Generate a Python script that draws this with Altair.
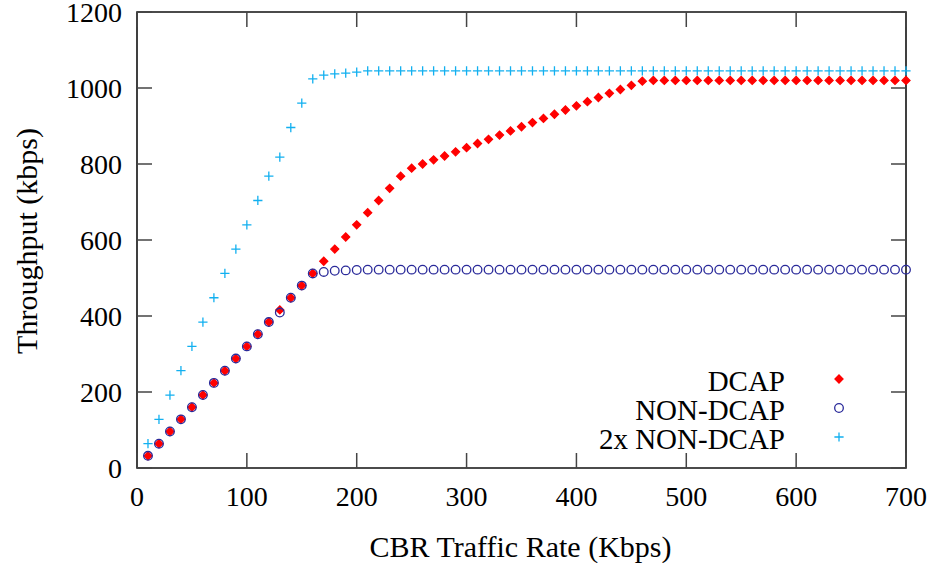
import altair as alt
import pandas as pd

# CBR traffic rate (Kbps) at which each throughput sample was taken
rate = [10, 20, 30, 40, 50, 60, 70, 80, 90, 100,
        110, 120, 130, 140, 150, 160, 170, 180, 190, 200,
        210, 220, 230, 240, 250, 260, 270, 280, 290, 300,
        310, 320, 330, 340, 350, 360, 370, 380, 390, 400,
        410, 420, 430, 440, 450, 460, 470, 480, 490, 500,
        510, 520, 530, 540, 550, 560, 570, 580, 590, 600,
        610, 620, 630, 640, 650, 660, 670, 680, 690, 700]

# Measured throughput (kbps)
dcap = [32, 64, 96, 128, 160, 192, 224, 256, 288, 320,
        352, 384, 416, 448, 480, 512, 544, 576, 608, 640,
        672, 704, 736, 768, 789, 800, 811, 821, 832, 843,
        854, 865, 876, 887, 898, 909, 920, 931, 942, 953,
        964, 975, 986, 996, 1007, 1018, 1020, 1020, 1020, 1020,
        1020, 1020, 1020, 1020, 1020, 1020, 1020, 1020, 1020, 1020,
        1020, 1020, 1020, 1020, 1020, 1020, 1020, 1020, 1020, 1020]

non_dcap = [32, 64, 96, 128, 160, 192, 224, 256, 288, 320,
            352, 384, 409, 448, 480, 512, 516, 519, 520, 521,
            522, 522, 522, 522, 522, 522, 522, 522, 522, 522,
            522, 522, 522, 522, 522, 522, 522, 522, 522, 522,
            522, 522, 522, 522, 522, 522, 522, 522, 522, 522,
            522, 522, 522, 522, 522, 522, 522, 522, 522, 522,
            522, 522, 522, 522, 522, 522, 522, 522, 522, 522]

twice_non_dcap = [64, 128, 192, 256, 320, 384, 448, 512, 576, 640,
                  704, 768, 818, 896, 960, 1024, 1034, 1037, 1039, 1042,
                  1045, 1045, 1045, 1045, 1045, 1045, 1045, 1045, 1045, 1045,
                  1045, 1045, 1045, 1045, 1045, 1045, 1045, 1045, 1045, 1045,
                  1045, 1045, 1045, 1045, 1045, 1045, 1045, 1045, 1045, 1045,
                  1045, 1045, 1045, 1045, 1045, 1045, 1045, 1045, 1045, 1045,
                  1045, 1045, 1045, 1045, 1045, 1045, 1045, 1045, 1045, 1045]

series_names = ["DCAP", "NON-DCAP", "2x NON-DCAP"]
x_ticks = [0, 100, 200, 300, 400, 500, 600, 700]
y_ticks = [0, 200, 400, 600, 800, 1000, 1200]
x_title = "CBR Traffic Rate (Kbps)"
y_title = "Throughput (kbps)"

W, H = 769, 456
FONT = "Times New Roman"
TICK_LEN = 15

frames = []
for name, vals in zip(series_names, [dcap, non_dcap, twice_non_dcap]):
    frames.append(pd.DataFrame({"rate": rate, "throughput": vals, "series": name}))
df = pd.concat(frames, ignore_index=True)

x_scale = alt.Scale(domain=[0, 700], nice=False, zero=False)
y_scale = alt.Scale(domain=[0, 1200], nice=False, zero=False)

plus_path = "M-1,0H1M0,-1V1"

# Per-series marker styling, shared by the data points and the key
shape_enc = alt.Shape("series:N", legend=None,
                      scale=alt.Scale(domain=series_names, range=["diamond", "circle", plus_path]))
stroke_enc = alt.Stroke("series:N", legend=None,
                        scale=alt.Scale(domain=series_names, range=["#ff0000", "#2a2a9a", "#12b0f0"]))
fill_enc = alt.Fill("series:N", legend=None,
                    scale=alt.Scale(domain=series_names, range=["#ff0000", "transparent", "transparent"]))
size_enc = alt.Size("series:N", legend=None,
                    scale=alt.Scale(domain=series_names, range=[64, 85, 121]))

point_style = dict(opacity=1, strokeWidth=1.3, filled=False)

points = alt.Chart(df).mark_point(**point_style).encode(
    x=alt.X("rate:Q", scale=x_scale, axis=None),
    y=alt.Y("throughput:Q", scale=y_scale, axis=None),
    shape=shape_enc, stroke=stroke_enc, fill=fill_enc, size=size_enc,
)

xt = pd.DataFrame({"rate": x_ticks})
yt = pd.DataFrame({"throughput": y_ticks})
tick_style = dict(color="#444444", strokeWidth=1.5)

# Inward ticks on all four sides of the frame
bottom_ticks = alt.Chart(xt).mark_rule(**tick_style).encode(
    x=alt.X("rate:Q", scale=x_scale, axis=None), y=alt.value(H), y2=alt.value(H - TICK_LEN))
top_ticks = alt.Chart(xt).mark_rule(**tick_style).encode(
    x=alt.X("rate:Q", scale=x_scale, axis=None), y=alt.value(0), y2=alt.value(TICK_LEN))
left_ticks = alt.Chart(yt).mark_rule(**tick_style).encode(
    y=alt.Y("throughput:Q", scale=y_scale, axis=None), x=alt.value(0), x2=alt.value(TICK_LEN))
right_ticks = alt.Chart(yt).mark_rule(**tick_style).encode(
    y=alt.Y("throughput:Q", scale=y_scale, axis=None), x=alt.value(W - TICK_LEN), x2=alt.value(W))

# Tick labels
text_style = dict(font=FONT, color="black")
x_labels = alt.Chart(xt).mark_text(fontSize=28, align="center", baseline="middle", **text_style).encode(
    x=alt.X("rate:Q", scale=x_scale, axis=None), y=alt.value(H + 30),
    text=alt.Text("rate:Q", format="d"))
y_labels = alt.Chart(yt).mark_text(fontSize=28, align="right", baseline="middle", dy=2, **text_style).encode(
    y=alt.Y("throughput:Q", scale=y_scale, axis=None), x=alt.value(-15),
    text=alt.Text("throughput:Q", format="d"))

# Axis titles
x_title_mark = alt.Chart(pd.DataFrame({"t": [x_title]})).mark_text(
    fontSize=30, align="center", baseline="middle", **text_style
).encode(text="t:N", x=alt.value(W / 2 - 1), y=alt.value(H + 80))
y_title_mark = alt.Chart(pd.DataFrame({"t": [y_title]})).mark_text(
    fontSize=30, align="center", baseline="middle", angle=270, **text_style
).encode(text="t:N", x=alt.value(-109), y=alt.value(H / 2 + 1))

# Key in the lower right: label on the left, marker on the right
key_layers = []
for k, name in enumerate(series_names):
    row = pd.DataFrame({"series": [name]})
    key_layers.append(alt.Chart(row).mark_point(**point_style).encode(
        x=alt.value(702), y=alt.value(367 + 29 * k),
        shape=shape_enc, stroke=stroke_enc, fill=fill_enc, size=size_enc))
    key_layers.append(alt.Chart(row).mark_text(
        fontSize=29, align="right", baseline="middle", **text_style
    ).encode(text="series:N", x=alt.value(648), y=alt.value(370 + 29 * k)))

chart = alt.layer(
    bottom_ticks, top_ticks, left_ticks, right_ticks, points,
    x_labels, y_labels, x_title_mark, y_title_mark, *key_layers
).properties(
    width=W, height=H,
    autosize=alt.AutoSizeParams(type="none"),
    padding={"left": 137, "top": 12, "right": 30, "bottom": 95},
    background="white",
).configure_view(
    stroke="#111111", strokeWidth=1.6
)

chart.save("out.html", embed_options={"renderer": "svg", "actions": False})
